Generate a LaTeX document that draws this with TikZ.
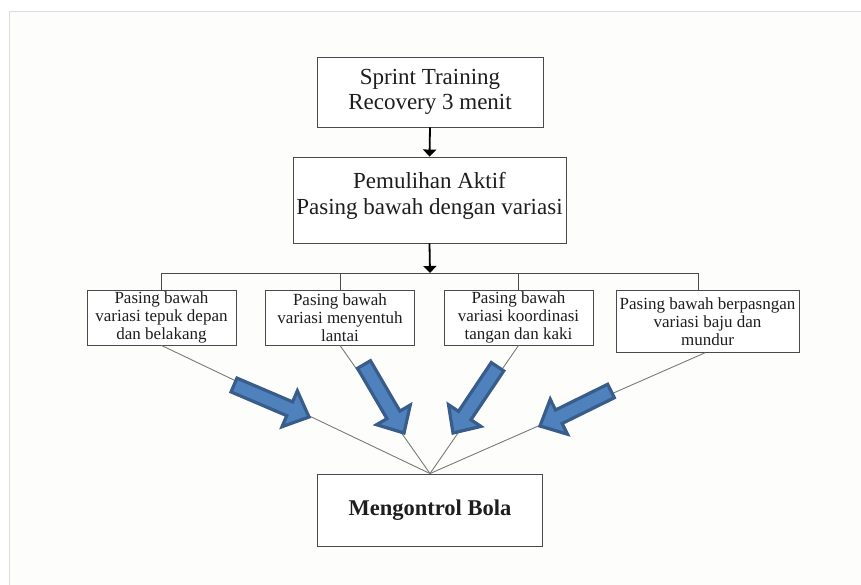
\documentclass[tikz,border=0pt]{standalone}
\usepackage{fontspec}
\setmainfont{Liberation Serif}
\usetikzlibrary{calc,arrows.meta}
\definecolor{frameline}{HTML}{DCDCDC}
\definecolor{framefill}{HTML}{FDFDFB}
\definecolor{boxline}{HTML}{4A4A4A}
\definecolor{txt}{HTML}{1E1E1E}
\definecolor{bfill}{HTML}{4F81BD}
\definecolor{bline}{HTML}{385D8A}
\definecolor{conn}{HTML}{7A7A7A}
\tikzset{
  bigbox/.style={draw=boxline,line width=0.9pt,fill=white,align=center,inner sep=0pt,text=txt,
    font=\fontsize{23}{25.5}\selectfont},
  smallbox/.style={draw=boxline,line width=0.9pt,fill=white,align=center,inner sep=0pt,text=txt,
    font=\fontsize{17}{18}\selectfont},
  downarrow/.style={line width=1.8pt,black,-{Triangle[width=13pt,length=7pt]}},
  treeline/.style={draw=boxline,line width=0.9pt},
  convline/.style={draw=conn,line width=0.9pt},
  barrow/.style={fill=bfill,draw=bline,line width=3.2pt,line join=miter},
}
\newcommand{\blockarr}[2]{%
  \coordinate (bh) at ($(#2)!21pt!(#1)$);
  \draw[barrow] ($(#1)!7.5pt!90:(#2)$) -- ($(bh)!7.5pt!90:(#2)$) -- ($(bh)!19.5pt!90:(#2)$) -- (#2)
    -- ($(bh)!19.5pt!-90:(#2)$) -- ($(bh)!7.5pt!-90:(#2)$) -- ($(#1)!7.5pt!-90:(#2)$) -- cycle;
}
\begin{document}
\begin{tikzpicture}[x=1pt,y=-1pt]
\useasboundingbox (0,0) rectangle (861,584);
\fill[white] (0,0) rectangle (861,584);
\filldraw[fill=framefill,draw=frameline,line width=1.5pt] (875,600) -- (9.5,600) -- (9.5,11.5) -- (875,11.5);

\node[bigbox,minimum width=226pt,minimum height=70pt] (sprint) at (430,92)
  {Sprint Training\\Recovery 3 menit};
\node[bigbox,minimum width=273pt,minimum height=86pt] (aktif) at (429.5,200)
  {Pemulihan Aktif\\Pasing bawah dengan variasi\rule[-13pt]{0pt}{13pt}};

\node[smallbox,minimum width=149pt,minimum height=55pt] (va) at (161.5,317.5)
  {Pasing bawah\\variasi tepuk depan\\dan belakang};
\node[smallbox,minimum width=149pt,minimum height=55pt] (vb) at (340,317.5)
  {Pasing bawah\\variasi menyentuh\\lantai};
\node[smallbox,minimum width=149pt,minimum height=55pt] (vc) at (518.5,317.5)
  {Pasing bawah\\variasi koordinasi\\tangan dan kaki};
\node[smallbox,minimum width=183pt,minimum height=62pt] (vd) at (707.5,321.3)
  {Pasing bawah berpasngan\\variasi baju dan\\mundur};

\node[draw=boxline,line width=0.9pt,fill=white,inner sep=0pt,text=txt,
  font=\fontsize{22.5}{25}\selectfont\bfseries,minimum width=225pt,minimum height=72pt]
  (bola) at (430,510) {Mengontrol Bola};

\coordinate (j) at (430,273);
\coordinate (dtop) at (698,290);
\draw[downarrow] (sprint.south) -- (aktif.north);
\draw[downarrow] (aktif.south) -- (j);
\draw[treeline] (va.north) |- (j);
\draw[treeline] (vb.north) |- (j);
\draw[treeline] (vc.north) |- (j);
\draw[treeline] (dtop) |- (j);

\coordinate (dbot) at (705,352.8);
\draw[convline] (va.south) -- (bola.north);
\draw[convline] (vb.south) -- (bola.north);
\draw[convline] (vc.south) -- (bola.north);
\draw[convline] (dbot) -- (bola.north);

\coordinate (t1) at (234,385);   \coordinate (p1) at (309,417);
\coordinate (t2) at (364,364.5); \coordinate (p2) at (404,433);
\coordinate (t3) at (497.5,366.7); \coordinate (p3) at (453,433);
\coordinate (t4) at (611,391);   \coordinate (p4) at (540,426);
\blockarr{t1}{p1}
\blockarr{t2}{p2}
\blockarr{t3}{p3}
\blockarr{t4}{p4}
\end{tikzpicture}
\end{document}
